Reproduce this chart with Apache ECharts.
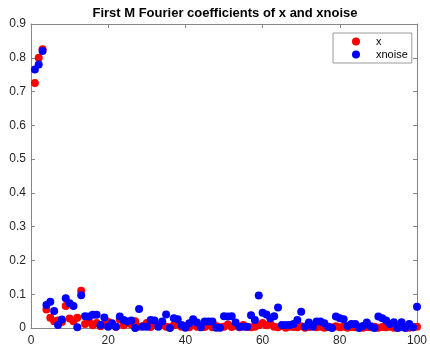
<!DOCTYPE html>
<html><head><meta charset="utf-8">
<script src="https://cdn.jsdelivr.net/npm/echarts@6/dist/echarts.min.js"></script>
<style>html,body{margin:0;padding:0;background:#fff}#c{width:430px;height:347px}</style>
</head><body><div id="c"></div>
<script>
const indices = [1,2,3,4,5,6,7,8,9,10,11,12,13,14,15,16,17,18,19,20,
21,22,23,24,25,26,27,28,29,30,31,32,33,34,35,36,37,38,39,40,
41,42,43,44,45,46,47,48,49,50,51,52,53,54,55,56,57,58,59,60,
61,62,63,64,65,66,67,68,69,70,71,72,73,74,75,76,77,78,79,80,
81,82,83,84,85,86,87,88,89,90,91,92,93,94,95,96,97,98,99,100];
const xValues = [0.725,0.800,0.825,0.055,0.030,0.020,0.022,0.018,0.065,0.028,
0.020,0.030,0.110,0.012,0.020,0.008,0.015,0.005,0.010,0.018,
0.010,0.004,0.025,0.008,0.015,0.010,0.020,0.004,0.006,0.015,
0.003,0.010,0.006,0.012,0.004,0.002,0.008,0.010,0.004,0.006,
0.002,0.012,0.004,0.005,0.003,0.008,0.002,0.006,0.002,0.004,
0.010,0.003,0.007,0.002,0.009,0.003,0.002,0.004,0.008,0.015,
0.008,0.012,0.004,0.002,0.006,0.001,0.004,0.003,0.002,0.005,
0.001,0.003,0.006,0.002,0.004,0.001,0.003,0.002,0.005,0.002,
0.004,0.001,0.003,0.002,0.004,0.001,0.003,0.002,0.004,0.001,
0.003,0.002,0.004,0.001,0.003,0.002,0.003,0.001,0.002,0.004];
const xnoiseValues = [0.765,0.780,0.820,0.068,0.078,0.050,0.009,0.025,0.088,0.073,
0.065,0.002,0.097,0.035,0.034,0.039,0.039,0.009,0.031,0.004,
0.014,0.004,0.034,0.024,0.019,0.022,0.000,0.056,0.004,0.004,
0.024,0.022,0.004,0.019,0.040,0.000,0.029,0.026,0.009,0.001,
0.014,0.026,0.016,0.002,0.019,0.019,0.019,0.001,0.001,0.035,
0.034,0.035,0.016,0.004,0.004,0.004,0.038,0.024,0.096,0.045,
0.040,0.029,0.035,0.061,0.009,0.009,0.009,0.012,0.024,0.048,
0.004,0.016,0.004,0.019,0.019,0.014,0.004,0.000,0.034,0.029,
0.026,0.006,0.012,0.012,0.000,0.006,0.016,0.005,0.000,0.034,
0.029,0.022,0.012,0.017,0.000,0.017,0.000,0.012,0.002,0.063];
const seriesNames = ['x','xnoise'];
const seriesColors = ['#ff0000','#0000ff'];
const titleText = 'First M Fourier coefficients of x and xnoise';
const xMin = 0, xMax = 100, xStep = 20;
const yMin = 0, yMax = 0.9, yStep = 0.1;

const FONT = '"Liberation Sans", Arial, Helvetica, sans-serif';
const axisCol = '#868686';
const txtCol = '#262626';
function mk(vals){ return indices.map((v,i)=>[v, vals[i]]); }
function xa(pos, labels){ return {type:'value', min:xMin, max:xMax, interval:xStep, position:pos,
  axisLine:{show:true, onZero:false, lineStyle:{color:axisCol,width:1}},
  axisTick:{show:true, inside:true, length:4, lineStyle:{color:axisCol}},
  splitLine:{show:false},
  axisLabel:{show:labels, color:txtCol, fontSize:12, fontFamily:FONT, margin:7}}; }
function ya(pos, labels){ return {type:'value', min:yMin, max:yMax, interval:yStep, position:pos,
  axisLine:{show:true, onZero:false, lineStyle:{color:axisCol,width:1}},
  axisTick:{show:true, inside:true, length:4, lineStyle:{color:axisCol}},
  splitLine:{show:false},
  axisLabel:{show:labels, color:txtCol, fontSize:12, fontFamily:FONT, margin:5,
    formatter:v=>String(Math.round(v*10)/10)}}; }
const chart = echarts.init(document.getElementById('c'), null, {renderer:'canvas'});
chart.setOption({
  animation:false,
  backgroundColor:'#ffffff',
  graphic:[{type:'text', style:{x:225, y:13, text:titleText, align:'center', verticalAlign:'middle',
    font:'bold 13px ' + FONT, fill:'#000'}}],
  grid:{left:31, top:24, width:388, height:304, containLabel:false},
  xAxis:[xa('bottom', true), xa('top', false)],
  yAxis:[ya('left', true), ya('right', false)],
  legend:{data:seriesNames, orient:'vertical', left:333, top:33,
    padding:[2,4,2,19], itemGap:0, itemWidth:8, itemHeight:8,
    backgroundColor:'#fff', borderColor:'#9a9a9a', borderWidth:1,
    textStyle:{fontSize:11, fontFamily:FONT, color:'#000', lineHeight:13, padding:[0,0,0,11]}},
  series:[
    {name:seriesNames[0], type:'scatter', data:mk(xValues), symbol:'circle', symbolSize:8,
     itemStyle:{color:seriesColors[0], opacity:1}, xAxisIndex:0, yAxisIndex:0},
    {name:seriesNames[1], type:'scatter', data:mk(xnoiseValues), symbol:'circle', symbolSize:8,
     itemStyle:{color:seriesColors[1], opacity:1}, xAxisIndex:0, yAxisIndex:0}
  ]
});
</script></body></html>
